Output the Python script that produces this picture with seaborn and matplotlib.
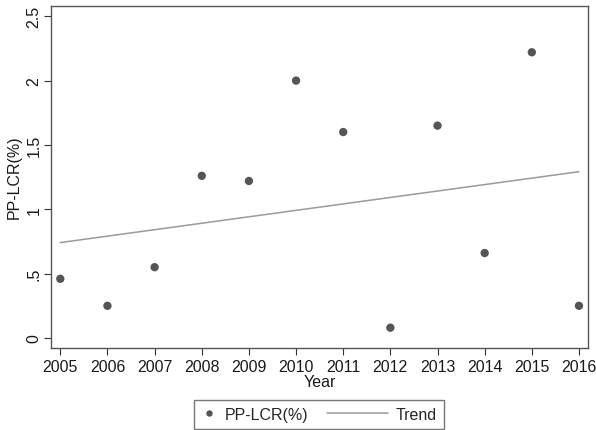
import matplotlib
matplotlib.use("Agg")
import matplotlib.pyplot as plt
from matplotlib.lines import Line2D
from matplotlib.legend_handler import HandlerLine2D
import seaborn as sns
import pandas as pd
import numpy as np

years = [2005, 2006, 2007, 2008, 2009, 2010, 2011, 2012, 2013, 2014, 2015, 2016]
pp_lcr = [0.46, 0.25, 0.55, 1.26, 1.22, 2.00, 1.60, 0.08, 1.65, 0.66, 2.22, 0.25]
ytick_vals = [0, 0.5, 1, 1.5, 2, 2.5]
ytick_labels = ["0", ".5", "1", "1.5", "2", "2.5"]

df = pd.DataFrame({"Year": years, "PP-LCR(%)": pp_lcr})

sns.set_theme(style="white")
plt.rcParams["font.family"] = ["Liberation Sans", "DejaVu Sans"]

point_color = "#555555"
trend_color = "#9a9a9a"
fs = 11.5

fig = plt.figure(figsize=(5.96, 4.31), dpi=100)
ax = fig.add_axes([0.0856, 0.191, 0.9014, 0.7935])

# Fitted linear trend across the observed years
sns.regplot(data=df, x="Year", y="PP-LCR(%)", scatter=False, ci=None,
            truncate=True, ax=ax, color=trend_color,
            line_kws=dict(lw=1.1))
sns.scatterplot(data=df, x="Year", y="PP-LCR(%)", ax=ax, color=point_color,
                s=36, edgecolor="none", zorder=3, legend=False)

ax.set_xlim(2004.803, 2016.197)
ax.set_ylim(-0.0754, 2.582)
ax.set_xticks(years)
ax.set_xticklabels([str(y) for y in years])
ax.set_yticks(ytick_vals)
ax.set_yticklabels(ytick_labels, rotation=90, va="center")

ax.tick_params(axis="both", which="major", direction="out", length=5,
               width=0.8, color="#333333", labelsize=fs, labelcolor="#1a1a1a",
               bottom=True, left=True)
ax.tick_params(axis="x", pad=3)
ax.tick_params(axis="y", pad=2)

for sp in ax.spines.values():
    sp.set_color("#555555")
    sp.set_linewidth(1.0)

ax.set_xlabel("Year", fontsize=fs, color="#1a1a1a", labelpad=0.5)
ax.set_ylabel("PP-LCR(%)", fontsize=fs, color="#1a1a1a", labelpad=3)


class WideLineHandler(HandlerLine2D):
    """Legend line that reaches back into the column gap before its label."""

    def get_xdata(self, legend, xdescent, ydescent, width, height, fontsize):
        x = np.array([-2.8 * fontsize, width - xdescent]) - xdescent
        return x, x


handles = [
    Line2D([], [], ls="none", marker="o", markersize=4.6, color=point_color,
           markeredgecolor="none"),
    Line2D([], [], color=trend_color, lw=1.1),
]
leg = fig.legend(handles, ["PP-LCR(%)", "Trend"],
                 handler_map={handles[1]: WideLineHandler()},
                 loc="lower center", bbox_to_anchor=(0.535, 0.002), ncol=2,
                 fontsize=fs, frameon=True, fancybox=False, edgecolor="#555555",
                 handlelength=1.0, columnspacing=4.0, handletextpad=0.45,
                 borderpad=0.45, borderaxespad=0.0)
leg.get_frame().set_linewidth(1.0)

fig.savefig("out.png", dpi=100, facecolor="white")
